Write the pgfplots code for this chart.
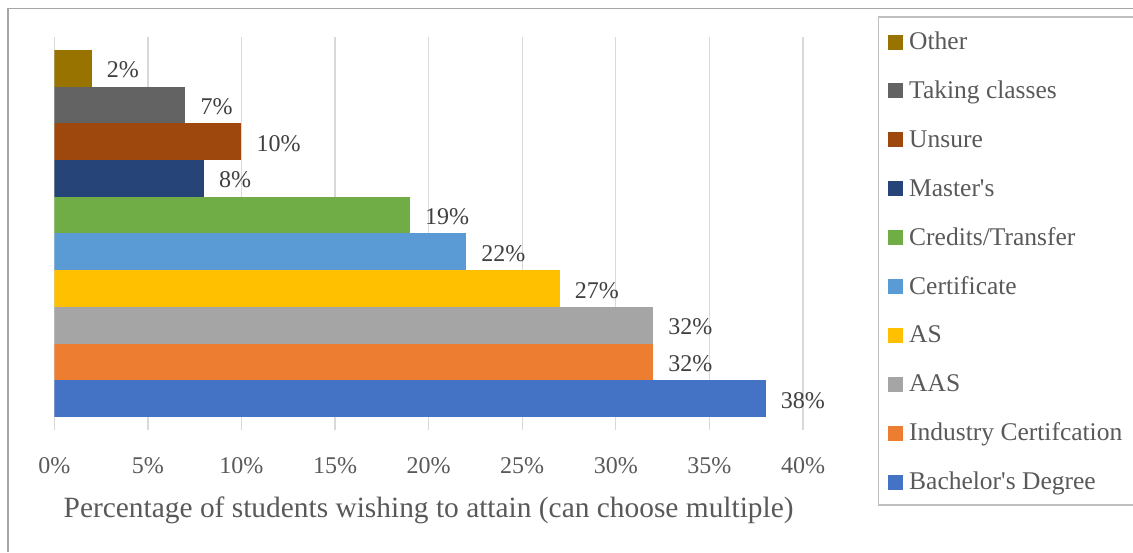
\documentclass[border=0pt]{standalone}
\usepackage{fontspec}
\setmainfont{Liberation Serif}
\usepackage{pgfplots}
\pgfplotsset{compat=1.18}
\definecolor{cBach}{HTML}{4472C4}
\definecolor{cInd}{HTML}{ED7D31}
\definecolor{cAAS}{HTML}{A5A5A5}
\definecolor{cAS}{HTML}{FFC000}
\definecolor{cCert}{HTML}{5B9BD5}
\definecolor{cCred}{HTML}{70AD47}
\definecolor{cMast}{HTML}{264478}
\definecolor{cUns}{HTML}{9E480E}
\definecolor{cTak}{HTML}{636363}
\definecolor{cOth}{HTML}{997300}
\definecolor{textgray}{HTML}{595959}
\definecolor{labelgray}{HTML}{404040}
\definecolor{gridgray}{HTML}{D9D9D9}
\definecolor{framegray}{HTML}{A6A6A6}
\definecolor{legframe}{HTML}{BFBFBF}
\begin{document}
\begin{tikzpicture}[x=1pt,y=1pt]
\useasboundingbox (0,0) rectangle (1133,552);
\draw[color=framegray, line width=1.4pt] (8,0) -- (8,543.7) -- (1140,543.7);
\draw[color=legframe, line width=1.3pt] (878.5,47) rectangle (1145,535);
\begin{axis}[
  at={(54.3pt,122pt)}, anchor=south west,
  scale only axis, width=748.7pt, height=393pt,
  xmin=0, xmax=40, ymin=-0.854, ymax=9.854,
  xtick={0,5,...,40}, ytick=\empty,
  xmajorgrids, grid style={color=gridgray, line width=1.3pt},
  axis line style={draw=none}, major tick length=0pt,
  xticklabel={\pgfmathprintnumber{\tick}\%},
  /pgf/number format/assume math mode=true,
  xticklabel style={font=\fontsize{24}{28}\selectfont, text=textgray, anchor=base, yshift=-43pt, inner sep=0pt},
  xlabel={Percentage of students wishing to attain (can choose multiple)},
  xlabel style={font=\fontsize{29.4}{34}\selectfont, text=textgray, at={(axis description cs:0.5,0)}, anchor=base, yshift=-87pt, inner sep=0pt},
  xbar, bar width=1, bar shift=0pt,
  every axis plot/.append style={bar shift=0pt, draw=none},
  point meta=x,
  nodes near coords={\pgfmathprintnumber{\pgfplotspointmeta}\%},
  nodes near coords style={font=\fontsize{24}{28}\selectfont, text=labelgray, anchor=base west, inner sep=0pt, xshift=15pt, yshift=-9.5pt},
  legend style={at={(axis description cs:1.1135,1.0094)}, anchor=north west, draw=none, fill=none, inner sep=0pt,
    font=\fontsize{25.5}{30}\selectfont, text=textgray, row sep=27.9pt, column sep=6pt,
    nodes={inner sep=0pt, text height=16pt, text depth=5pt}, cells={anchor=west}},
  reverse legend,
  legend image code/.code={\fill[#1] (0pt,-5.5pt) rectangle (15pt,9.5pt);},
]
\addplot[fill=cBach] coordinates {(38,0)};
\addplot[fill=cInd] coordinates {(32,1)};
\addplot[fill=cAAS] coordinates {(32,2)};
\addplot[fill=cAS] coordinates {(27,3)};
\addplot[fill=cCert] coordinates {(22,4)};
\addplot[fill=cCred] coordinates {(19,5)};
\addplot[fill=cMast] coordinates {(8,6)};
\addplot[fill=cUns] coordinates {(10,7)};
\addplot[fill=cTak] coordinates {(7,8)};
\addplot[fill=cOth] coordinates {(2,9)};
\legend{Bachelor\textquotesingle s Degree, Industry Certifcation, AAS, AS, Certificate, Credits/Transfer, Master\textquotesingle s, Unsure, Taking classes, Other}
\end{axis}
\end{tikzpicture}
\end{document}
